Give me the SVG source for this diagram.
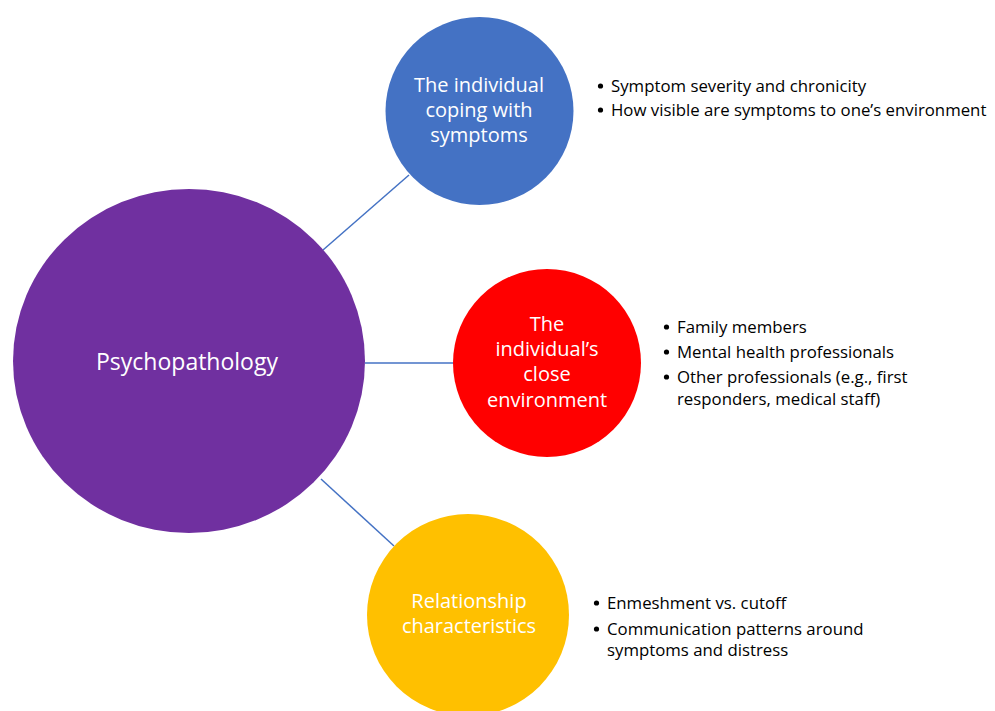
<svg xmlns="http://www.w3.org/2000/svg" width="995" height="711" viewBox="0 0 995 711">
<style>
.lbl{font-family:"Open Sans","Noto Sans",sans-serif;fill:#fff;text-anchor:middle;font-size:20px}
.big{font-size:23px}
.bul{font-family:"Open Sans","Noto Sans",sans-serif;fill:#000;font-size:16.8px}
.dot{fill:#000}
.conn{stroke:#4472C4;stroke-width:1.5;fill:none}
</style>
<rect width="995" height="711" fill="#fff"/>
<g id="connectors">
<line class="conn" x1="323" y1="250" x2="409" y2="175"/>
<line class="conn" x1="365" y1="363" x2="453" y2="363"/>
<line class="conn" x1="321" y1="479" x2="394" y2="546"/>
</g>
<g id="psychopathology">
<ellipse cx="189" cy="361" rx="176" ry="172" fill="#7030A0"/>
<text class="lbl big" x="187" y="370">Psychopathology</text>
</g>
<g id="coping">
<circle cx="479.5" cy="111" r="94" fill="#4472C4"/>
<text class="lbl" x="479" y="92">The individual</text>
<text class="lbl" x="479" y="117">coping with</text>
<text class="lbl" x="479" y="142">symptoms</text>
</g>
<g id="environment">
<circle cx="547" cy="363" r="94" fill="#FF0000"/>
<text class="lbl" x="547" y="331">The</text>
<text class="lbl" x="547" y="356">individual’s</text>
<text class="lbl" x="547" y="381">close</text>
<text class="lbl" x="547" y="407">environment</text>
</g>
<g id="relationship">
<circle cx="468" cy="615" r="101" fill="#FFC000"/>
<text class="lbl" x="469" y="608">Relationship</text>
<text class="lbl" x="469" y="633">characteristics</text>
</g>
<g id="coping-bullets" class="bul">
<circle class="dot" cx="600.5" cy="86" r="2.6"/><text x="611" y="92">Symptom severity and chronicity</text>
<circle class="dot" cx="600.5" cy="110" r="2.6"/><text x="611" y="116">How visible are symptoms to one’s environment</text>
</g>
<g id="environment-bullets" class="bul">
<circle class="dot" cx="666.5" cy="327" r="2.6"/><text x="677" y="333">Family members</text>
<circle class="dot" cx="666.5" cy="352" r="2.6"/><text x="677" y="358">Mental health professionals</text>
<circle class="dot" cx="666.5" cy="377" r="2.6"/><text x="677" y="383">Other professionals (e.g., first</text>
<text x="677" y="405">responders, medical staff)</text>
</g>
<g id="relationship-bullets" class="bul">
<circle class="dot" cx="596.5" cy="603" r="2.6"/><text x="607" y="609">Enmeshment vs. cutoff</text>
<circle class="dot" cx="596.5" cy="629" r="2.6"/><text x="607" y="635">Communication patterns around</text>
<text x="607" y="656">symptoms and distress</text>
</g>
</svg>
